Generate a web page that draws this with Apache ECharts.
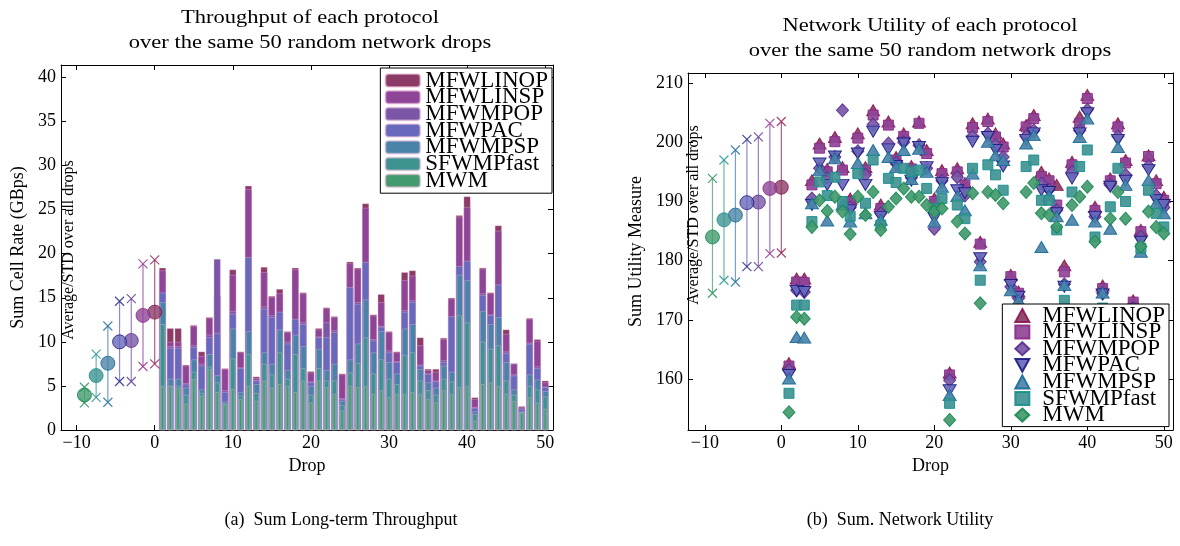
<!DOCTYPE html>
<html><head><meta charset="utf-8">
<script src="https://cdn.jsdelivr.net/npm/echarts@6/dist/echarts.min.js"></script>
<style>
html,body{margin:0;padding:0;background:#fff;}
#a,#b{position:absolute;top:0;width:590px;height:546px;}
#a{left:0;} #b{left:590px;}
</style></head><body>
<div id="a"></div><div id="b"></div>
<script>
const FONT = 'Liberation Serif';
const protocols = ['MFWLINOP','MFWLINSP','MFWMPOP','MFWPAC','MFWMPSP','SFWMPfast','MWM'];
const drops = [1,2,3,4,5,6,7,8,9,10,11,12,13,14,15,16,17,18,19,20,21,22,23,24,25,26,27,28,29,30,31,32,33,34,35,36,37,38,39,40,41,42,43,44,45,46,47,48,49,50];
const xTicks = [-10,0,10,20,30,40,50];
const rateTicks = [0,5,10,15,20,25,30,35,40];
const utilTicks = [160,170,180,190,200,210];

// Sum cell rate (GBps) per drop
const rateMFWLINOP = [18.4,11.55,11.55,7.4,11.9,8.9,12.8,15.3,7.0,18.2, 8.9,27.7,6.06,18.5,15.2,16.0,11.2,18.4,15.6,6.66, 11.55,13.9,12.9,6.4,19.1,18.4,25.7,13.1,15.4,11.2, 8.9,17.9,18.1,10.5,6.93,6.93,10.45,15.0,24.35,26.5, 3.7,18.4,15.6,23.2,11.4,7.57,2.7,12.7,10.3,5.6];
const rateMFWLINSP = [18.1,10.0,10.0,7.3,11.8,8.4,12.7,15.2,6.9,17.6, 8.8,27.3,5.9,17.9,15.1,15.5,11.1,18.2,15.5,6.5, 11.4,13.8,12.8,6.3,18.9,18.3,25.2,13.0,14.5,11.1, 8.8,17.0,17.5,9.6,6.8,6.6,10.3,14.9,24.2,25.3, 3.5,18.3,15.5,22.6,10.9,7.5,2.6,12.6,10.1,5.4];
const rateMFWMPOP = [15.4,9.5,9.5,5.3,9.6,7.5,10.8,19.4,4.5,13.5, 7.1,19.0,5.7,14.0,13.0,13.2,10.0,12.4,12.2,5.5, 10.6,12.2,11.3,3.6,16.0,14.5,18.8,10.3,11.8,9.0, 7.8,13.6,14.7,7.4,6.4,5.6,7.9,12.7,18.4,19.0, 2.6,15.5,13.1,16.3,8.9,6.3,2.4,9.9,7.2,4.9];
const rateMFWPAC = [15.6,9.3,9.3,5.15,9.4,7.3,10.5,11.0,4.3,13.2, 7.0,19.6,5.6,13.75,12.8,13.4,9.8,12.6,12.0,5.4, 10.5,10.5,11.1,3.5,16.2,14.3,19.05,10.15,11.7,8.8, 7.7,13.4,14.5,7.3,6.36,5.5,7.7,12.9,18.6,19.2, 2.5,15.3,13.0,16.5,8.7,6.17,2.4,9.77,7.0,4.85];
const rateMFWMPSP = [14.5,5.8,5.8,4.8,8.0,4.6,8.6,6.2,3.2,11.5, 4.3,11.2,5.2,8.8,7.5,11.4,6.8,10.8,9.5,5.0, 9.2,6.8,7.5,3.3,8.0,9.8,14.8,8.8,11.2,7.7, 6.4,11.5,12.0,6.9,5.4,4.8,7.3,6.6,17.6,17.0, 2.1,13.5,12.0,12.8,7.7,4.6,2.1,6.3,5.7,4.4];
const rateSFWMPfast = [12.0,5.0,5.0,4.0,6.6,4.2,7.2,5.4,3.0,8.1, 3.9,8.6,4.2,7.5,6.3,8.8,5.8,8.6,7.0,4.0, 7.0,5.6,5.6,2.8,6.5,7.6,10.5,6.4,8.0,5.8, 5.2,8.5,8.8,5.6,4.5,4.0,5.8,5.5,13.0,12.2, 1.8,10.0,9.2,9.6,5.6,4.0,2.0,5.0,4.6,3.8];
const rateMWM = [5.0,5.0,4.8,3.0,5.8,3.9,6.9,4.3,2.9,4.65, 3.5,5.0,3.3,5.6,4.8,5.2,5.0,4.3,5.6,3.1, 5.6,4.85,4.1,2.2,5.0,4.85,5.0,4.1,4.5,3.7, 4.1,4.1,4.3,4.1,3.5,3.1,4.5,4.1,4.85,5.0, 1.06,5.2,5.4,5.0,4.1,3.3,1.9,3.7,3.1,2.4];

// Sum utility measure per drop
const utilMFWLINOP = [162.7,177.0,177.0,193.6,199.8,195.5,200.9,195.8,190.5,201.5, 195.8,205.4,189.5,203.5,197.5,201.5,196.0,203.5,198.7,190.5, 195.3,161.1,195.6,193.1,203.2,183.2,204.0,201.5,199.8,177.6, 174.8,202.9,204.6,195.0,193.9,192.8,179.2,196.7,204.3,208.0, 189.1,175.8,193.9,203.2,197.0,173.3,185.2,197.8,193.6,190.8];
const utilMFWLINSP = [162.2,176.4,176.3,192.8,199.0,195.0,200.1,195.3,190.0,200.7, 195.3,204.6,188.8,202.9,197.0,201.0,195.5,203.2,198.1,190.0, 194.7,160.7,195.0,192.8,202.5,182.8,203.5,200.9,199.2,177.3, 174.5,202.6,204.0,194.2,193.5,189.4,178.1,196.2,203.2,207.4, 188.5,175.3,193.5,202.6,196.5,173.0,184.9,197.6,193.0,190.2];
const utilMFWMPOP = [161.5,175.0,174.7,190.5,195.6,194.0,197.5,205.4,189.0,198.5, 194.5,203.0,188.0,199.8,196.5,200.0,194.0,199.5,195.6,185.4, 193.5,159.8,194.1,191.0,201.0,179.8,201.5,199.5,197.5,175.6, 173.6,201.0,202.0,193.0,192.0,188.5,176.0,195.0,202.0,205.5, 187.4,174.5,192.8,201.0,194.5,172.0,184.0,196.0,191.0,189.0];
const utilMFWPAC = [160.7,174.9,174.7,189.4,196.4,192.8,197.6,192.8,188.5,198.1, 192.8,201.8,187.4,198.8,196.0,199.8,193.5,199.2,195.8,187.2, 193.1,158.1,191.9,191.4,200.1,180.4,200.9,198.7,195.9,175.9, 173.9,200.4,201.5,191.9,191.6,188.0,175.6,193.9,201.5,204.9, 187.4,174.3,192.5,200.4,193.5,171.5,183.2,195.3,190.2,189.4];
const utilMFWMPSP = [160.1,167.1,167.0,189.7,195.3,186.8,197.3,189.5,186.6,196.5, 188.0,198.7,186.9,197.5,195.8,198.7,193.8,198.9,195.0,186.6, 192.5,157.3,190.9,188.5,194.7,179.2,200.1,197.8,197.0,175.0, 173.3,199.8,201.2,182.3,191.0,187.5,175.9,186.9,200.9,204.0, 186.6,174.6,185.4,199.2,192.8,171.0,181.5,193.6,189.7,188.0];
const utilSFWMPfast = [157.6,172.5,172.5,186.6,193.3,191.0,194.1,190.0,187.5,194.7, 189.7,197.0,186.0,193.9,193.2,195.6,195.0,195.3,192.2,188.8, 190.5,155.9,189.4,187.1,195.6,176.7,196.2,194.5,191.9,171.5, 170.0,195.9,197.0,190.2,190.2,185.2,173.3,191.6,195.9,198.7, 184.0,172.0,189.1,195.6,190.0,169.0,182.1,191.9,188.0,185.7];
const utilMWM = [154.4,170.5,170.2,185.7,190.2,188.4,190.8,188.3,184.5,190.8, 187.7,191.6,185.2,189.1,190.5,192.2,190.8,190.8,189.4,188.3, 188.8,153.1,186.6,184.6,191.4,172.8,191.6,191.1,189.7,168.0, 166.5,191.6,193.1,188.0,187.7,185.7,170.0,189.4,190.8,192.5, 183.2,169.0,187.1,191.6,187.1,166.0,182.4,188.3,185.7,184.6];

// Average / STD summaries (order as protocols)
const summaryX = [0,-1.5,-3,-4.5,-6,-7.5,-9];
const rateAvg = [13.37,13.0,10.15,10.0,7.57,6.17,3.97];
const rateHi  = [19.3,18.85,14.9,14.6,11.8,8.6,4.85];
const rateLo  = [7.5,7.2,5.5,5.5,3.15,3.7,3.07];
const utilAvg = [192.4,192.2,189.9,189.8,187.7,186.9,184.0];
const utilHi  = [203.5,203.2,200.9,200.5,198.7,197.0,193.9];
const utilLo  = [181.3,181.2,179.0,179.0,176.4,176.7,174.5];

const rateData = [rateMFWLINOP,rateMFWLINSP,rateMFWMPOP,rateMFWPAC,rateMFWMPSP,rateSFWMPfast,rateMWM];
const utilData = [utilMFWLINOP,utilMFWLINSP,utilMFWMPOP,utilMFWPAC,utilMFWMPSP,utilSFWMPfast,utilMWM];

const fill  = ['#8c3b66','#8f4597','#7b56a6','#6868bc','#4a83a8','#3e9391','#439a6e'];
const dark  = ['#8a1a50','#8e2a88','#5a3090','#1c1c80','#1a6a9a','#1a8f8f','#1a8a52'];
const light = ['#a8607f','#a872b0','#9a82c2','#8a8ad0','#74a2c0','#6eb3b0','#74b894'];
const symbols = ['triangle','rect','diamond','path://M0,0L12,0L6,11Z','triangle','rect','diamond'];
const symSize = [[13,11],10,[12,13],[13,11],[13,11],10,[12,13]];

function fmtX(v){ return v < 0 ? '\u2212' + Math.abs(v) : String(v); }
const blk = {color:'#000', width:1};

function axesX(min, max){
  return [
    {type:'value', min:min, max:max, position:'bottom', name:'Drop', nameLocation:'middle', nameGap:24,
     nameTextStyle:{fontFamily:FONT, fontSize:18, color:'#000'},
     axisLine:{onZero:false, lineStyle:blk}, axisTick:{inside:true, length:5, customValues:xTicks, lineStyle:blk},
     axisLabel:{customValues:xTicks, formatter:fmtX, fontFamily:FONT, fontSize:18, color:'#000', margin:4},
     splitLine:{show:false}},
    {type:'value', min:min, max:max, position:'bottom', show:false},
    {type:'value', min:min, max:max, position:'bottom', show:false},
    {type:'value', min:min, max:max, position:'top',
     axisLine:{show:true, onZero:false, lineStyle:blk}, axisTick:{inside:true, length:5, customValues:xTicks, lineStyle:blk},
     axisLabel:{show:false}, splitLine:{show:false}}
  ];
}
function axesY(min, max, ticks, name, gap){
  return [
    {type:'value', min:min, max:max, position:'left', name:name, nameLocation:'middle', nameGap:gap,
     nameTextStyle:{fontFamily:FONT, fontSize:18, color:'#000'},
     axisLine:{show:true, onZero:false, lineStyle:blk}, axisTick:{show:true, inside:true, length:5, customValues:ticks, lineStyle:blk},
     axisLabel:{customValues:ticks, fontFamily:FONT, fontSize:18, color:'#000', margin:5},
     splitLine:{show:false}},
    {type:'value', min:min, max:max, position:'right',
     axisLine:{show:true, onZero:false, lineStyle:blk}, axisTick:{show:true, inside:true, length:5, customValues:ticks, lineStyle:blk},
     axisLabel:{show:false}, splitLine:{show:false}}
  ];
}
function summarySeries(avg, hi, lo){
  const out = [];
  protocols.forEach((p, i) => {
    out.push({type:'line', name:'std-' + p, xAxisIndex:0, data:[[summaryX[i], lo[i]],[summaryX[i], hi[i]]],
      symbol:'none', lineStyle:{color:light[i], width:1.2}, z:3, silent:true});
    out.push({type:'scatter', name:'lim-' + p, xAxisIndex:0, data:[[summaryX[i], lo[i]],[summaryX[i], hi[i]]],
      symbol:'path://M0,0L10,10M10,0L0,10', symbolSize:9,
      itemStyle:{color:'none', borderColor:dark[i], borderWidth:1.2}, z:4, silent:true});
    out.push({type:'scatter', name:'avg-' + p, xAxisIndex:0, data:[[summaryX[i], avg[i]]],
      symbol:'circle', symbolSize:14, itemStyle:{color:fill[i], borderColor:dark[i], borderWidth:1}, z:5, silent:true});
  });
  return out;
}
function vtext(x, y, s){
  return {type:'text', x:x, y:y, rotation:Math.PI/2, z:100,
    style:{text:s, font:'16px "Liberation Serif"', fill:'#000', textAlign:'center', textVerticalAlign:'middle'}};
}
function htext(x, y, s, size, sx){
  return {type:'text', x:x, y:y, z:100, scaleX:sx || 1,
    style:{text:s, font:size + 'px "Liberation Serif"', fill:'#000', textAlign:'center', textVerticalAlign:'top', lineHeight:25}};
}

// ---------- Left: throughput bars ----------
const barAxis = [0,0,0,0,1,1,2];
const barW = [7,7,7,7,6,5,3];
const leftSeries = protocols.map((p, i) => ({
  name:p, type:'bar', xAxisIndex:barAxis[i], barWidth:barW[i], barGap:'-100%',
  data: drops.map((d, k) => [d, rateData[i][k]]),
  itemStyle:{color:fill[i], borderColor:'rgba(240,200,225,0.55)', borderWidth:0.6}, z:2
})).concat(summarySeries(rateAvg, rateHi, rateLo));

const left = echarts.init(document.getElementById('a'), null, {renderer:'canvas'});
left.setOption({
  animation:false,
  textStyle:{fontFamily:FONT},
  grid:{left:61, top:65, width:492, height:365, containLabel:false},
  xAxis: axesX(-12, 51),
  yAxis: axesY(0, 41.4, rateTicks, 'Sum Cell Rate (GBps)', 30),
  legend:{data:protocols, orient:'vertical', right:38, top:68, itemWidth:35, itemHeight:13, itemGap:-6.3,
    padding:[1,4,1,4], backgroundColor:'#fff', borderColor:'#000', borderWidth:1, selectedMode:false,
    textStyle:{fontFamily:FONT, fontSize:23, color:'#000'}},
  graphic:[
    htext(310, 6, 'Throughput of each protocol\nover the same 50 random network drops', 18, 1.25),
    htext(341, 508, '(a)  Sum Long-term Throughput', 18),
    vtext(69, 250, 'Average/STD over all drops')
  ],
  series: leftSeries
});

// ---------- Right: utility scatter ----------
const rightSeries = protocols.map((p, i) => ({
  name:p, type:'scatter', xAxisIndex:0, symbol:symbols[i], symbolSize:symSize[i],
  data: drops.map((d, k) => [d, utilData[i][k]]),
  itemStyle:{color:fill[i], opacity:0.92, borderColor:dark[i], borderWidth:1}, z:2
})).concat(summarySeries(utilAvg, utilHi, utilLo));

const right = echarts.init(document.getElementById('b'), null, {renderer:'canvas'});
right.setOption({
  animation:false,
  textStyle:{fontFamily:FONT},
  grid:{left:98, top:73, width:485, height:357, containLabel:false},
  xAxis: axesX(-12.2, 51.2),
  yAxis: axesY(151.4, 211.7, utilTicks, 'Sum Utility Measure', 42),
  legend:{data: protocols.map((p, i) => ({name:p, icon:symbols[i]})), orient:'vertical', right:11, top:304,
    itemWidth:14, itemHeight:13, itemGap:-6.4, padding:[0,4,0,12], backgroundColor:'#fff', borderColor:'#000',
    borderWidth:1, selectedMode:false,
    textStyle:{fontFamily:FONT, fontSize:23, color:'#000', padding:[0,0,0,8]}},
  graphic:[
    htext(340, 14, 'Network Utility of each protocol\nover the same 50 random network drops', 18, 1.25),
    htext(310, 508, '(b)  Sum. Network Utility', 18),
    vtext(104, 215, 'Average/STD over all drops')
  ],
  series: rightSeries
});
</script>
</body></html>
